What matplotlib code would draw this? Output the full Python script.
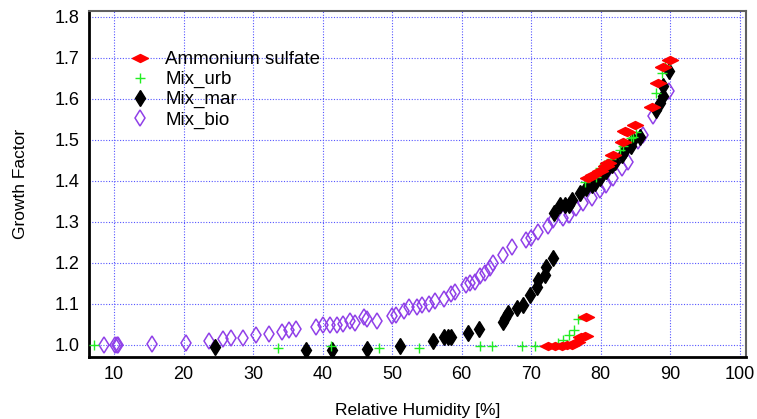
import numpy as np
import matplotlib
matplotlib.use("Agg")
import matplotlib.pyplot as plt

plt.rcParams['font.family'] = ['Liberation Sans', 'DejaVu Sans']

# Ammonium sulfate (red)
as_rh = [72.4, 73.4, 74.4, 75.1, 75.8, 76.6, 77.2, 77.7, 77.9,
         78.2, 78.9, 79.9, 80.8, 81.1, 81.8, 83.2, 83.5, 83.7, 84.9,
         87.3, 88.3, 89.0, 90.0]
as_gf = [0.998, 0.998, 0.998, 1.000, 1.000, 1.008, 1.020, 1.022, 1.068,
         1.407, 1.414, 1.423, 1.435, 1.443, 1.463, 1.494, 1.522, 1.520, 1.535,
         1.581, 1.638, 1.677, 1.695]

# Mix_urb (green)
urb_rh = [7.1, 33.6, 41.2, 48.1, 53.8, 62.6, 64.4, 68.6, 70.6,
          73.9, 74.6, 75.5, 76.2, 76.7,
          77.7, 79.3, 79.9, 80.4, 81.5, 82.8, 83.2, 84.4, 84.7, 85.1,
          88.0, 88.8, 89.2]
urb_gf = [1.000, 0.993, 0.997, 0.992, 0.992, 0.998, 0.998, 0.998, 0.998,
          1.004, 1.012, 1.024, 1.037, 1.064,
          1.396, 1.410, 1.431, 1.439, 1.452, 1.476, 1.484, 1.504, 1.508, 1.520,
          1.614, 1.663, 1.683]

# Mix_mar (black)
mar_rh = [24.5, 37.6, 41.4, 46.4, 51.1, 55.9, 57.4, 58.0, 58.5, 60.9,
          62.5, 65.9, 66.2, 66.7, 68.0, 68.8, 69.8, 70.8, 70.9, 72.0, 72.1, 73.1,
          73.3, 74.1, 74.8, 75.4, 75.9, 77.0, 77.9, 78.7, 79.1, 79.9, 80.8,
          81.6, 82.0, 83.0, 83.5, 84.3, 84.7, 85.6, 88.0, 88.5, 88.9, 89.0, 89.8]
mar_gf = [0.995, 0.988, 0.988, 0.991, 0.998, 1.010, 1.019, 1.019, 1.019, 1.030,
          1.038, 1.057, 1.065, 1.077, 1.089, 1.098, 1.122, 1.142, 1.159, 1.171, 1.191, 1.211,
          1.321, 1.341, 1.341, 1.341, 1.354, 1.370, 1.382, 1.390, 1.394, 1.407, 1.423,
          1.439, 1.447, 1.463, 1.476, 1.484, 1.500, 1.508, 1.573, 1.590, 1.606, 1.630, 1.667]

# Mix_bio (purple, open)
bio_rh = [8.5, 10.2, 10.4, 10.6, 15.4, 20.4, 23.6, 25.6, 26.8, 28.5, 30.4, 32.3,
          34.2, 35.2, 36.1, 39.0, 40.0, 41.0, 42.0, 42.9, 44.0, 44.7, 45.9, 46.4,
          47.8, 50.0, 50.5, 51.7, 52.4, 53.5, 54.3, 55.3, 56.1, 57.5, 58.5, 59.1,
          60.6, 61.2, 61.9, 62.6, 63.3, 64.1, 64.5, 66.0, 67.2, 69.3, 70.0, 71.0,
          72.4, 73.2, 74.6, 75.5, 76.5, 77.5, 78.7, 79.9, 80.8, 81.8, 83.0, 83.9,
          85.4, 86.1, 87.5, 89.8]
bio_gf = [1.000, 0.999, 1.000, 1.001, 1.002, 1.006, 1.010, 1.015, 1.016, 1.018, 1.024, 1.028,
          1.031, 1.037, 1.040, 1.045, 1.048, 1.049, 1.049, 1.050, 1.059, 1.053, 1.068, 1.063,
          1.059, 1.071, 1.074, 1.084, 1.092, 1.093, 1.098, 1.099, 1.108, 1.113, 1.124, 1.130,
          1.146, 1.150, 1.154, 1.168, 1.175, 1.187, 1.199, 1.220, 1.238, 1.256, 1.260, 1.276,
          1.289, 1.305, 1.309, 1.317, 1.333, 1.346, 1.358, 1.378, 1.390, 1.407, 1.431, 1.447,
          1.496, 1.512, 1.557, 1.618]

x_ticks = [10, 20, 30, 40, 50, 60, 70, 80, 90, 100]
y_ticks = [1.0, 1.1, 1.2, 1.3, 1.4, 1.5, 1.6, 1.7, 1.8]

fig = plt.figure(figsize=(7.57, 4.19), dpi=100)
ax = fig.add_axes([0.1176, 0.1487, 0.868, 0.8258])

# wide flat diamond for ammonium sulfate
wide_diamond = [(-1, 0), (0, 0.5), (1, 0), (0, -0.5), (-1, 0)]

ax.plot(bio_rh, bio_gf, linestyle='none', marker='d', markersize=7.8,
        markerfacecolor='none', markeredgecolor='#9040e8', markeredgewidth=1.1,
        label='Mix_bio', zorder=3)
ax.plot(mar_rh, mar_gf, linestyle='none', marker='d', markersize=8,
        color='black', label='Mix_mar', zorder=4)
ax.plot(urb_rh, urb_gf, linestyle='none', marker='+', markersize=7.5,
        color='#22ee22', markeredgewidth=1.0, label='Mix_urb', zorder=5)
ax.plot(as_rh, as_gf, linestyle='none', marker=wide_diamond, markersize=11.5,
        color='red', label='Ammonium sulfate', zorder=6)

ax.set_xlim(6.4, 100.9)
ax.set_ylim(0.9715, 1.8146)
ax.set_xticks(x_ticks)
ax.set_yticks(y_ticks)
ax.set_yticklabels([f'{v:.1f}' for v in y_ticks])
ax.tick_params(length=0, labelsize=13, pad=7)

ax.grid(True, color='#5555ff', linestyle=(0, (1, 1.5)), linewidth=0.8)
ax.set_axisbelow(True)

for s in ['left', 'bottom']:
    ax.spines[s].set_color('black')
    ax.spines[s].set_linewidth(2)
for s in ['top', 'right']:
    ax.spines[s].set_color('#606060')
    ax.spines[s].set_linewidth(1.5)

ax.set_xlabel('Relative Humidity [%]', fontsize=12.5, labelpad=14)
ax.set_ylabel('Growth Factor', fontsize=12.5, labelpad=19)

handles, labels = ax.get_legend_handles_labels()
order = [3, 2, 1, 0]
ax.legend([handles[i] for i in order], [labels[i] for i in order],
          loc='upper left', bbox_to_anchor=(0.045, 0.905), frameon=False,
          fontsize=13.5, handletextpad=0.6, labelspacing=0.15, handlelength=1.5,
          borderaxespad=0)

fig.savefig('out.png', dpi=100)
